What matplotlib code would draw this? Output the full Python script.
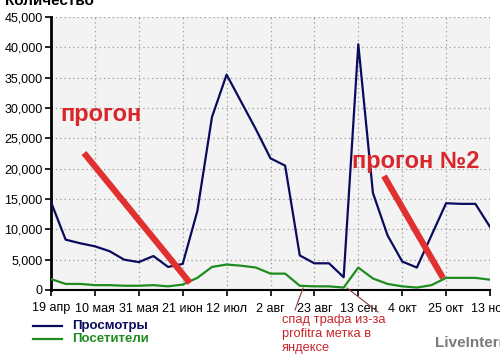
import matplotlib
matplotlib.use("Agg")
import matplotlib.pyplot as plt
from matplotlib.ticker import FuncFormatter

plt.rcParams['font.family'] = ['Liberation Sans', 'DejaVu Sans']

# data (weekly, days since 19 Apr)
days = list(range(0, 211, 7))
views = [14500, 8300, 7700, 7200, 6400, 5000, 4600, 5600, 3800, 4300,
         13000, 28500, 35500, 31000, 26500, 21700, 20500, 5700, 4400, 4400,
         2100, 40500, 16000, 9000, 4700, 3700, 9000, 14300, 14200, 14200, 10400]
visitors = [1800, 1000, 1000, 800, 800, 700, 700, 800, 600, 900,
            2000, 3800, 4200, 4000, 3700, 2700, 2700, 700, 600, 600,
            400, 3700, 1900, 1000, 600, 400, 800, 2000, 2000, 2000, 1700]
xtick_pos = [0, 21, 42, 63, 84, 105, 126, 147, 168, 189, 210]
xtick_labels = ['19 апр', '10 мая', '31 мая', '21 июн', '12 июл', '2 авг',
                '23 авг', '13 сен', '4 окт', '25 окт', '13 ноя']
yticks = list(range(0, 45001, 5000))
series_names = ['Просмотры', 'Посетители']

W, H = 500, 355
fig = plt.figure(figsize=(5, 3.55), dpi=100)
fig.patch.set_facecolor('white')

def fx(px):
    return px / W

def fy(py):
    return 1 - py / H

ax = fig.add_axes([fx(51), fy(290), fx(490) - fx(51), fy(17) - fy(290)])
ax.set_facecolor('#f3f3f3')
navy = '#0b0b5e'
green = '#1e8c1e'
ax.plot(days, views, color=navy, lw=1.6, zorder=3)
ax.plot(days, visitors, color=green, lw=1.6, zorder=3)
ax.set_xlim(0, 210)
ax.set_ylim(0, 45000)
ax.set_xticks(xtick_pos)
ax.set_xticklabels(xtick_labels)
ax.set_yticks(yticks)
ax.yaxis.set_major_formatter(FuncFormatter(lambda v, p: f'{int(v):,}'))
ax.grid(True, color='#9a9a9a', linestyle=(0, (1, 2.5)), lw=0.9)
ax.set_axisbelow(True)
for s in ['top', 'right']:
    ax.spines[s].set_visible(False)
ax.spines['left'].set_linewidth(2)
ax.spines['bottom'].set_linewidth(1.5)
ax.tick_params(axis='both', direction='out', length=4, width=1.2,
               labelsize=9, colors='black', pad=2)
ax.tick_params(axis='x', pad=5)

# title (partially cut off)
fig.text(fx(5), fy(5), 'Количество', fontsize=11, fontweight='bold',
         ha='left', va='baseline')

# legend
for name, col, py in [(series_names[0], navy, 326),
                      (series_names[1], green, 339)]:
    fig.add_artist(plt.Line2D([fx(33), fx(62)], [fy(py), fy(py)],
                              color=col, lw=1.6))
    fig.text(fx(72), fy(py), name, color=col, fontsize=9.5,
             fontweight='bold', ha='left', va='center')

# annotations
red = '#d8262b'
fig.text(fx(60), fy(115), 'прогон', color=red, fontsize=17,
         fontweight='bold', ha='left', va='center')
fig.text(fx(352), fy(161), 'прогон №2', color=red, fontsize=17,
         fontweight='bold', ha='left', va='center')
fig.add_artist(plt.Line2D([fx(84), fx(190)], [fy(153), fy(283)],
                          color='#e03030', lw=4.5, solid_capstyle='butt'))
fig.add_artist(plt.Line2D([fx(384), fx(443)], [fy(176), fy(278)],
                          color='#e03030', lw=4.5, solid_capstyle='butt'))
fig.add_artist(plt.Line2D([fx(295), fx(303)], [fy(310), fy(288)],
                          color='#8a3a3a', lw=0.8))
fig.add_artist(plt.Line2D([fx(347), fx(378)], [fy(288), fy(312)],
                          color='#8a3a3a', lw=0.8))
fig.text(fx(282), fy(334), 'спад трафа из-за\nprofitra метка в\nяндексе',
         color='#c8262c', fontsize=9.3, ha='left', va='center',
         linespacing=1.25)
fig.text(fx(435), fy(343), 'LiveInternet', color='#7a7a7a', fontsize=11,
         fontweight='bold', ha='left', va='center')

fig.savefig('out.png', dpi=100)
